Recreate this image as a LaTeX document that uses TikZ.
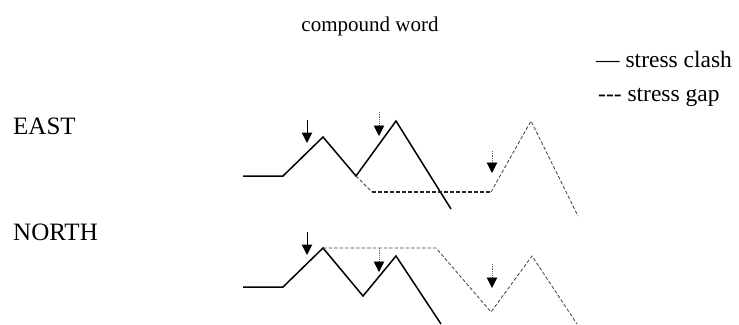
\documentclass[tikz,border=0pt]{standalone}
\usepackage{fontspec}
\setmainfont{Liberation Serif}
\usetikzlibrary{arrows.meta}
\begin{document}
\begin{tikzpicture}[x=1pt,y=-1pt,
  clash/.style={line width=1.5pt,line join=miter,black},
  gapline/.style={line width=1.1pt,dash pattern=on 4pt off 2pt,black!85},
  gapthin/.style={line width=0.8pt,dash pattern=on 3.5pt off 2pt,black!75},
  stressarrow/.style={line width=1pt,-{Triangle[width=10.5pt,length=10.5pt]}},
  weakarrow/.style={line width=0.8pt,densely dotted,black!60,-{Triangle[width=10.5pt,length=10.5pt,color=black,fill=black]}},
  lbl/.style={inner sep=0pt,anchor=base west,font=\fontsize{25}{29}\selectfont},
  legend/.style={inner sep=0pt,anchor=base west,font=\fontsize{23.5}{27}\selectfont}]
\useasboundingbox (0,0) rectangle (739,324);
% texts
\node[inner sep=0pt,anchor=base,font=\fontsize{21}{25}\selectfont] (title) at (370,31) {compound word};
\node[lbl] (east) at (13,134) {EAST};
\node[lbl] (north) at (13,240) {NORTH};
\node[legend] (leg1) at (596,67) {— stress clash};
\node[legend] (leg2) at (598,101) {-{}-{}- stress gap};
% EAST
\draw[clash] (243,176) -- (283,176) -- (323,137) -- (356,176) -- (396,121) -- (451,209);
\draw[gapthin] (356,176) -- (372,192);
\draw[gapline] (372,192) -- (491,192);
\draw[gapthin] (491,192) -- (531,121) -- (578,216);
\draw[stressarrow] (307,120) -- (307,143);
\draw[weakarrow] (379,112) -- (379,136);
\draw[weakarrow] (492,151) -- (492,173);
% NORTH
\draw[clash] (243,287) -- (283,287) -- (323,248) -- (363,296) -- (396,256) -- (441,324);
\draw[gapthin] (323,248) -- (436,248) -- (491,312) -- (532,256) -- (577,324);
\draw[stressarrow] (307,232) -- (307,255);
\draw[weakarrow] (379,248) -- (379,272);
\draw[weakarrow] (492,264) -- (492,288);
\end{tikzpicture}
\end{document}
